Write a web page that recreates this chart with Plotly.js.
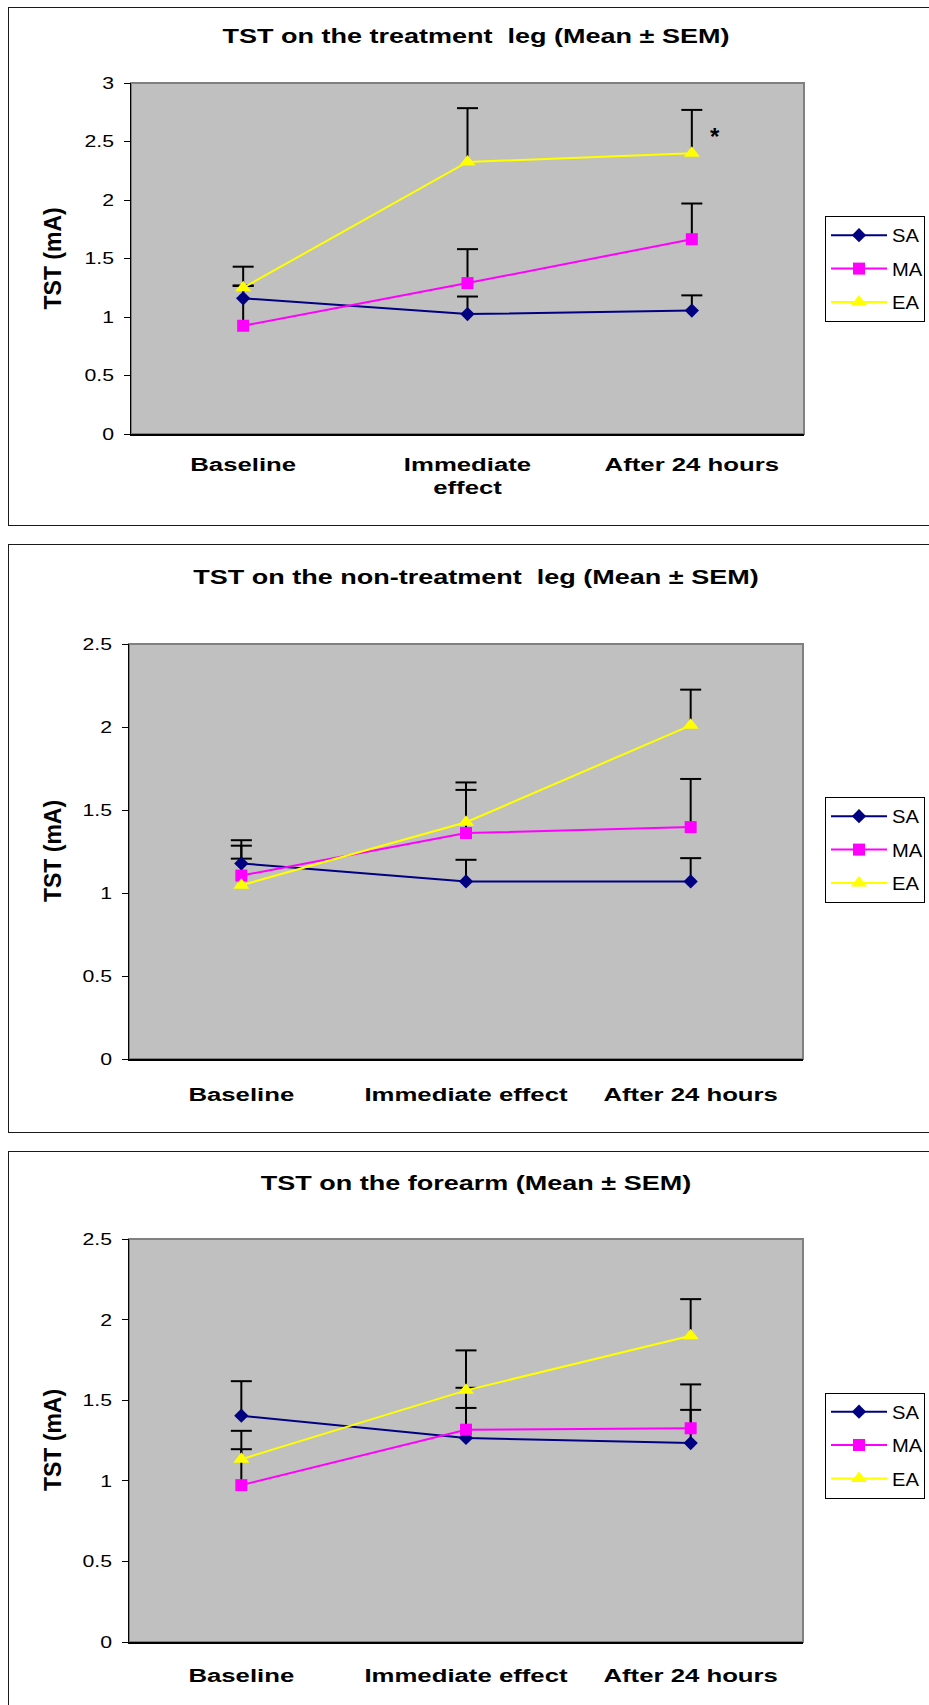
<!DOCTYPE html>
<html>
<head>
<meta charset="utf-8">
<script src="https://cdn.plot.ly/plotly-3.0.1.min.js"></script>
<style>
  html, body { margin: 0; padding: 0; background: #fff; width: 929px; height: 1705px; overflow: hidden; }
  .plot { position: absolute; left: 0; width: 929px; }
  .frame { position: absolute; left: 8px; width: 960px; border: 1.5px solid #1a1a1a; box-sizing: border-box; pointer-events: none; }
</style>
</head>
<body>
<div class="frame" style="top:7px;height:519px;"></div>
<div class="frame" style="top:544px;height:589px;"></div>
<div class="frame" style="top:1151px;height:620px;"></div>
<div id="c1" class="plot" style="top:0px;height:530px;"></div>
<div id="c2" class="plot" style="top:530px;height:610px;"></div>
<div id="c3" class="plot" style="top:1140px;height:565px;"></div>
<script>
// ---------------- data ----------------
const categories = ['Baseline', 'Immediate effect', 'After 24 hours'];
const tickLabelsChart1 = ['Baseline', 'Immediate<br>effect', 'After 24 hours'];
const seriesNames = ['SA', 'MA', 'EA'];

// Chart 1: TST on the treatment leg
const treatSA = [1.16, 1.025, 1.055];
const treatSA_sem = [0.11, 0.15, 0.13];
const treatMA = [0.925, 1.29, 1.665];
const treatMA_sem = [0.34, 0.29, 0.305];
const treatEA = [1.25, 2.325, 2.40];
const treatEA_sem = [0.18, 0.46, 0.37];

// Chart 2: TST on the non-treatment leg
const nonTreatSA = [1.178, 1.07, 1.07];
const nonTreatSA_sem = [0.14, 0.13, 0.14];
const nonTreatMA = [1.105, 1.361, 1.397];
const nonTreatMA_sem = [0.18, 0.26, 0.29];
const nonTreatEA = [1.047, 1.426, 2.01];
const nonTreatEA_sem = [0.16, 0.24, 0.215];

// Chart 3: TST on the forearm
const forearmSA = [1.404, 1.266, 1.234];
const forearmSA_sem = [0.214, 0.186, 0.206];
const forearmMA = [0.973, 1.317, 1.326];
const forearmMA_sem = [0.223, 0.26, 0.272];
const forearmEA = [1.134, 1.561, 1.90];
const forearmEA_sem = [0.176, 0.248, 0.227];

// ---------------- style ----------------
const FONT = 'Liberation Sans, Arial, Helvetica, sans-serif';
const colors = { SA: '#000080', MA: '#FF00FF', EA: '#FFFF00' };
const symbols = { SA: 'diamond', MA: 'square', EA: 'triangle-up' };
const msize = { SA: 11, MA: 12, EA: 14 };

function buildTraces(means, sems) {
  const traces = [];
  // error bars (plus direction only) : vertical stick + cap
  const capX = [], capY = [], capSem = [];
  seriesNames.forEach(function (s, i) {
    means[i].forEach(function (v, j) {
      capX.push(categories[j]);
      capY.push(v + sems[i][j]);
      capSem.push(sems[i][j]);
    });
  });
  traces.push({
    type: 'scatter', mode: 'markers', x: capX, y: capY, showlegend: false, hoverinfo: 'skip',
    marker: { symbol: 'line-ew', size: 15, color: '#000', line: { width: 2, color: '#000' } },
    error_y: { type: 'data', symmetric: false, array: capSem.map(function () { return 0; }),
               arrayminus: capSem, width: 0, thickness: 2, color: '#000' }
  });
  seriesNames.forEach(function (s, i) {
    traces.push({
      type: 'scatter', mode: 'lines+markers', name: s, legendgroup: s,
      x: categories, y: means[i],
      line: { color: colors[s], width: 2 },
      marker: { symbol: symbols[s], size: msize[s], color: colors[s] }
    });
  });
  return traces;
}

function buildLayout(o) {
  const plotW = o.plotRight - o.l;
  const anns = [{ xref: 'paper', yref: 'paper', x: (52 - o.l) / plotW, y: 0.5, text: 'TST (mA)',
    textangle: -90, showarrow: false, xanchor: 'center', yanchor: 'middle',
    font: { family: FONT, size: 23, weight: 'bold', color: '#000' } }].concat(o.annotations || []);
  return {
    width: 929, height: o.height,
    margin: { l: o.l, r: 929 - o.plotRight, t: o.t, b: o.b, pad: 0 },
    paper_bgcolor: 'rgba(0,0,0,0)', plot_bgcolor: '#C0C0C0',
    font: { family: FONT, color: '#000' },
    title: { text: o.title, x: 476 / 929, xanchor: 'center', y: o.titleY, yanchor: 'middle',
             yref: 'container', xref: 'container',
             font: { family: FONT, size: 20, weight: 'bold', color: '#000' } },
    showlegend: true,
    legend: { xref: 'container', yref: 'container', x: 825 / 929, xanchor: 'left',
              y: o.legendY, yanchor: 'top', bgcolor: '#fff', bordercolor: '#000', borderwidth: 1,
              font: { family: FONT, size: 18, color: '#000' }, itemwidth: 56,
              traceorder: 'grouped', tracegroupgap: 7 },
    xaxis: { type: 'category', categoryarray: categories, range: [-0.5, 2.5],
             tickvals: categories, ticktext: o.ticktext,
             showgrid: false, zeroline: false, showline: true, linecolor: '#000', linewidth: 2,
             ticks: '', ticklabelstandoff: o.xStandoff,
             tickfont: { family: FONT, size: 18, weight: 'bold', color: '#000' } },
    yaxis: { range: [0, o.ymax], dtick: 0.5, tick0: 0, showgrid: false, zeroline: false,
             showline: true, linecolor: '#000', linewidth: 1.5,
             ticks: 'outside', ticklen: 6, tickwidth: 1, tickcolor: '#000', ticklabelstandoff: 6,
             tickfont: { family: FONT, size: 17, color: '#000' } },
    shapes: [{ type: 'rect', xref: 'paper', yref: 'paper', x0: 0, x1: 1, y0: 0, y1: 1,
               line: { color: '#808080', width: 2 }, layer: 'below' }],
    annotations: anns
  };
}

function stretchText(gd, selector, k) {
  gd.querySelectorAll(selector).forEach(function (t) {
    const lines = t.querySelectorAll('tspan.line');
    const els = lines.length ? Array.prototype.slice.call(lines) : [t];
    els.forEach(function (el) {
      const w = el.getComputedTextLength();
      if (w > 0) {
        el.setAttribute('textLength', (w * k).toFixed(2));
        el.setAttribute('lengthAdjust', 'spacingAndGlyphs');
      }
    });
  });
}

function finish(gd) {
  stretchText(gd, 'text.gtitle', 1.35);
  stretchText(gd, 'g.xtick > text', 1.43);
  stretchText(gd, 'g.ytick > text', 1.25);
  stretchText(gd, 'text.legendtext', 1.12);
}

const config = { staticPlot: true, displayModeBar: false };

Plotly.newPlot('c1',
  buildTraces([treatSA, treatMA, treatEA], [treatSA_sem, treatMA_sem, treatEA_sem]),
  buildLayout({ height: 530, l: 131, plotRight: 804, t: 83, b: 96, ymax: 3,
    title: 'TST on the treatment\u00A0 leg (Mean ± SEM)', titleY: 1 - 35.5 / 530,
    legendY: 1 - 216 / 530, ticktext: tickLabelsChart1, xStandoff: 13,
    annotations: [{ xref: 'paper', yref: 'y', x: 0.868, y: 2.545, text: '*', showarrow: false,
      xanchor: 'center', yanchor: 'middle', font: { family: FONT, size: 24, weight: 'bold', color: '#000' } }] }),
  config).then(finish);

Plotly.newPlot('c2',
  buildTraces([nonTreatSA, nonTreatMA, nonTreatEA], [nonTreatSA_sem, nonTreatMA_sem, nonTreatEA_sem]),
  buildLayout({ height: 610, l: 128.5, plotRight: 803.5, t: 113.5, b: 80.5, ymax: 2.5,
    title: 'TST on the non-treatment\u00A0 leg (Mean ± SEM)', titleY: 1 - 47 / 610,
    legendY: 1 - 267 / 610, ticktext: categories, xStandoff: 18 }),
  config).then(finish);

Plotly.newPlot('c3',
  buildTraces([forearmSA, forearmMA, forearmEA], [forearmSA_sem, forearmMA_sem, forearmEA_sem]),
  buildLayout({ height: 565, l: 128.5, plotRight: 803.5, t: 98.5, b: 63, ymax: 2.5,
    title: 'TST on the forearm (Mean ± SEM)', titleY: 1 - 42.5 / 565,
    legendY: 1 - 252.5 / 565, ticktext: categories, xStandoff: 16 }),
  config).then(finish);
</script>
</body>
</html>
